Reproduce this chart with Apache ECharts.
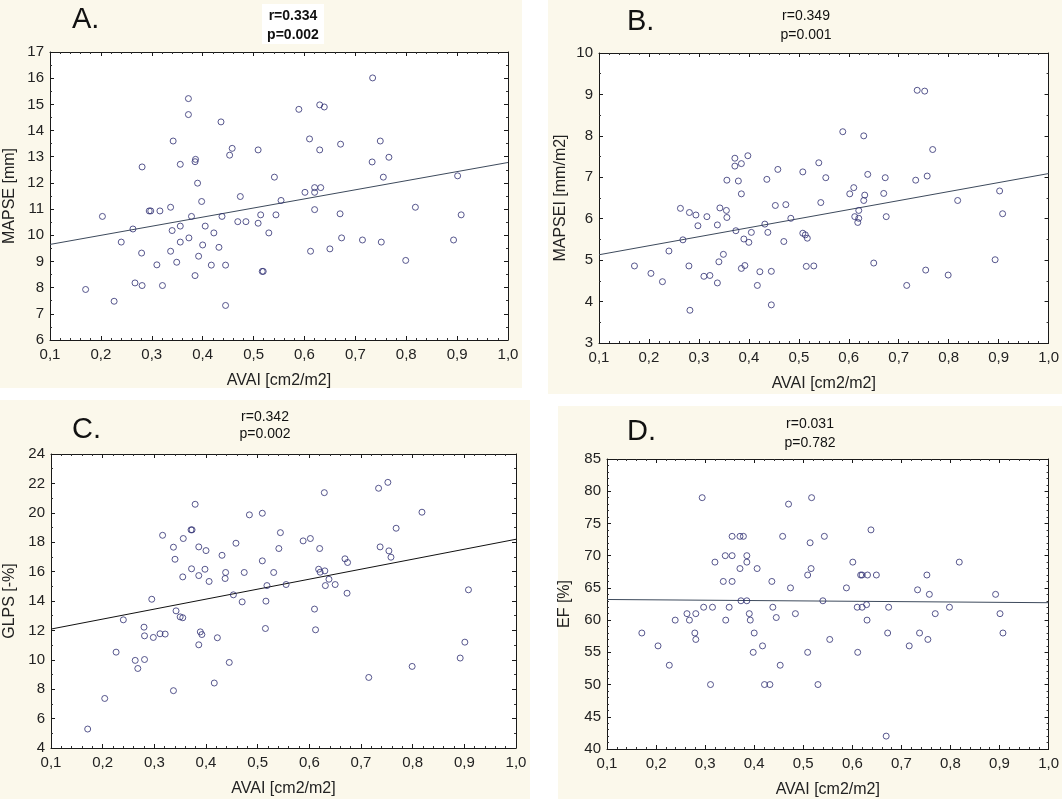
<!DOCTYPE html>
<html>
<head>
<meta charset="utf-8">
<script src="https://cdn.jsdelivr.net/npm/echarts@6/dist/echarts.min.js"></script>
<style>
  html, body { margin: 0; padding: 0; background: #fff; }
  #MyChart { width: 1062px; height: 799px; }
</style>
</head>
<body>
<div id="MyChart"></div>
<script>
// AVAI [cm2/m2] vs MAPSE [mm]
var mapseData = [
  [0.170, 7.93], [0.203, 10.72], [0.226, 7.48], [0.240, 9.74], [0.263, 10.24], [0.267, 8.18],
  [0.280, 9.32], [0.281, 12.61], [0.281, 8.08], [0.295, 10.93], [0.298, 10.93], [0.310, 8.87],
  [0.316, 10.93], [0.321, 8.08], [0.337, 9.39], [0.337, 11.07], [0.340, 10.18], [0.342, 13.60],
  [0.349, 8.97], [0.356, 12.71], [0.356, 10.35], [0.356, 9.74], [0.372, 15.22], [0.372, 14.61],
  [0.373, 9.90], [0.378, 10.72], [0.386, 12.90], [0.385, 12.81], [0.385, 8.46], [0.390, 11.99],
  [0.392, 9.20], [0.398, 11.29], [0.400, 9.63], [0.405, 10.35], [0.417, 8.86], [0.422, 10.09],
  [0.432, 9.54], [0.436, 14.33], [0.438, 10.72], [0.445, 8.86], [0.445, 7.32], [0.453, 13.06],
  [0.458, 13.32], [0.469, 10.52], [0.474, 11.48], [0.485, 10.52], [0.509, 13.26], [0.509, 10.46],
  [0.514, 10.78], [0.517, 8.62], [0.519, 8.62], [0.530, 10.09], [0.541, 12.22], [0.544, 10.78],
  [0.554, 11.33], [0.589, 14.81], [0.601, 11.64], [0.610, 13.68], [0.612, 9.39], [0.620, 11.82],
  [0.620, 11.64], [0.620, 10.98], [0.630, 13.26], [0.630, 14.98], [0.632, 11.82], [0.639, 14.90],
  [0.650, 9.48], [0.670, 10.82], [0.671, 13.48], [0.673, 9.90], [0.714, 9.82], [0.733, 12.80],
  [0.734, 16.01], [0.749, 13.60], [0.751, 9.74], [0.755, 12.22], [0.766, 12.98], [0.799, 9.04],
  [0.818, 11.07], [0.893, 9.82], [0.901, 12.27], [0.908, 10.78]
];
var mapseFit = [[0.1, 9.65], [1.0, 12.78]];

// AVAI vs MAPSEI [mm/m2]
var mapseiData = [
  [0.171, 4.86], [0.204, 4.68], [0.227, 4.48], [0.240, 5.22], [0.263, 6.25], [0.268, 5.49],
  [0.281, 6.15], [0.280, 4.86], [0.282, 3.79], [0.294, 6.09], [0.298, 5.83], [0.310, 4.61],
  [0.316, 6.05], [0.322, 4.63], [0.337, 4.45], [0.337, 5.85], [0.340, 4.96], [0.342, 6.26],
  [0.349, 5.14], [0.355, 6.20], [0.356, 6.03], [0.356, 6.93], [0.372, 7.46], [0.372, 7.27],
  [0.374, 5.71], [0.379, 6.91], [0.385, 7.33], [0.385, 6.60], [0.385, 4.80], [0.390, 5.51],
  [0.392, 4.87], [0.398, 7.52], [0.400, 5.43], [0.405, 5.67], [0.417, 4.39], [0.422, 4.72],
  [0.432, 5.87], [0.436, 6.95], [0.438, 5.67], [0.445, 4.73], [0.445, 3.92], [0.453, 6.32],
  [0.458, 7.19], [0.470, 5.45], [0.474, 6.34], [0.484, 6.01], [0.508, 7.13], [0.508, 5.65],
  [0.513, 5.61], [0.517, 5.53], [0.515, 4.85], [0.530, 4.86], [0.540, 7.35], [0.544, 6.39],
  [0.554, 6.99], [0.588, 8.10], [0.602, 6.60], [0.610, 6.75], [0.612, 6.05], [0.620, 6.20],
  [0.620, 6.01], [0.618, 5.91], [0.630, 8.00], [0.632, 6.57], [0.630, 6.44], [0.638, 7.07],
  [0.650, 4.93], [0.670, 6.61], [0.673, 6.99], [0.675, 6.05], [0.716, 4.39], [0.734, 6.93],
  [0.737, 9.10], [0.752, 9.08], [0.754, 4.76], [0.757, 7.03], [0.768, 7.67], [0.799, 4.64],
  [0.818, 6.44], [0.893, 5.01], [0.902, 6.67], [0.908, 6.12]
];
var mapseiFit = [[0.1, 5.13], [1.0, 7.09]];

// AVAI vs GLPS [-%]
var glpsData = [
  [0.171, 5.29], [0.204, 7.37], [0.226, 10.52], [0.240, 12.72], [0.263, 9.96], [0.268, 9.41],
  [0.280, 12.22], [0.281, 11.63], [0.281, 10.02], [0.295, 14.12], [0.298, 11.52], [0.311, 11.77],
  [0.316, 18.47], [0.321, 11.75], [0.337, 7.90], [0.337, 17.66], [0.340, 16.84], [0.342, 13.33],
  [0.350, 12.92], [0.355, 12.86], [0.355, 15.64], [0.356, 18.25], [0.371, 18.84], [0.373, 18.84],
  [0.372, 16.19], [0.379, 20.58], [0.386, 17.68], [0.386, 15.73], [0.386, 11.02], [0.389, 11.90],
  [0.392, 11.72], [0.398, 16.16], [0.400, 17.43], [0.406, 15.33], [0.416, 8.42], [0.422, 11.50],
  [0.431, 17.11], [0.437, 15.53], [0.438, 15.94], [0.445, 9.82], [0.453, 14.42], [0.458, 17.93],
  [0.470, 13.94], [0.474, 15.94], [0.484, 19.86], [0.509, 19.97], [0.509, 16.73], [0.515, 12.13],
  [0.516, 13.99], [0.518, 15.05], [0.531, 15.94], [0.541, 17.57], [0.544, 18.65], [0.555, 15.12],
  [0.588, 18.09], [0.602, 18.25], [0.610, 13.45], [0.612, 12.04], [0.620, 17.57], [0.618, 16.16],
  [0.621, 15.96], [0.629, 21.37], [0.630, 16.05], [0.631, 15.05], [0.638, 15.48], [0.650, 15.12],
  [0.669, 16.87], [0.674, 16.62], [0.673, 14.53], [0.715, 8.80], [0.734, 21.67], [0.737, 17.68],
  [0.752, 22.07], [0.754, 17.41], [0.758, 16.98], [0.768, 18.95], [0.799, 9.55], [0.818, 20.04],
  [0.892, 10.12], [0.901, 11.20], [0.908, 14.76]
];
var glpsFit = [[0.1, 12.09], [1.0, 18.20]];

// AVAI vs EF [%]
var efData = [
  [0.171, 58], [0.204, 56], [0.227, 53], [0.239, 60], [0.263, 61], [0.268, 60],
  [0.279, 58], [0.281, 57], [0.281, 61], [0.294, 79], [0.297, 62], [0.311, 50],
  [0.315, 62], [0.320, 69], [0.337, 66], [0.341, 70], [0.342, 60], [0.349, 62],
  [0.355, 66], [0.355, 73], [0.355, 70], [0.371, 73], [0.378, 73], [0.371, 68],
  [0.373, 63], [0.385, 63], [0.385, 70], [0.385, 69], [0.390, 61], [0.392, 60],
  [0.400, 58], [0.398, 55], [0.406, 68], [0.417, 56], [0.421, 50], [0.432, 50],
  [0.436, 66], [0.438, 62], [0.445, 60.4], [0.453, 53], [0.458, 73], [0.470, 78],
  [0.474, 65], [0.484, 61], [0.509, 67], [0.509, 55], [0.514, 72], [0.517, 79],
  [0.516, 68], [0.530, 50], [0.540, 63], [0.543, 73], [0.554, 57], [0.588, 65],
  [0.601, 69], [0.610, 62], [0.611, 55], [0.617, 67], [0.620, 67], [0.620, 62],
  [0.629, 62.4], [0.630, 60], [0.631, 67], [0.638, 74], [0.649, 67], [0.669, 42],
  [0.672, 58], [0.674, 62], [0.716, 56], [0.733, 64.7], [0.737, 58], [0.752, 67],
  [0.754, 57], [0.757, 64], [0.769, 61], [0.798, 62], [0.818, 69], [0.892, 64],
  [0.901, 61], [0.907, 58]
];
var efFit = [[0.1, 63.2], [1.0, 62.7]];

var xTicks = [0.1, 1.0, 0.1];
var FONT = 'Liberation Sans, Arial, sans-serif';

var grids = [];
var xAxes = [];
var yAxes = [];
var series = [];

//一个面板：网格 + 四边坐标轴 + 散点 + 回归线
function addPanel(i, box, yMin, yMax, yStep, yMinor, yName, yNameGap, data, fit, fitColor) {
    grids.push({ left: box[0], top: box[1], width: box[2], height: box[3], show: true, backgroundColor: '#fff', borderWidth: 0 });
    var lineStyle = { color: '#1a1a1a', width: 1 };
    xAxes.push({
        gridIndex: i, type: 'value', position: 'bottom',
        min: xTicks[0], max: xTicks[1], interval: xTicks[2],
        name: 'AVAI [cm2/m2]', nameLocation: 'middle', nameGap: 33,
        nameTextStyle: { fontFamily: FONT, fontSize: 16, color: '#222' },
        axisLine: { show: true, onZero: false, lineStyle: lineStyle },
        axisTick: { inside: true, length: 4, lineStyle: lineStyle },
        minorTick: { show: true, splitNumber: 5, length: 2, lineStyle: { color: '#333' } },
        splitLine: { show: false },
        axisLabel: { fontFamily: FONT, fontSize: 15, color: '#222', margin: 7,
            formatter: function (v) { return v.toFixed(1).replace('.', ','); } }
    });
    xAxes.push({
        gridIndex: i, type: 'value', position: 'top',
        min: xTicks[0], max: xTicks[1], interval: xTicks[2],
        axisLine: { show: true, onZero: false, lineStyle: lineStyle },
        axisTick: { inside: true, length: 4, lineStyle: lineStyle },
        minorTick: { show: true, splitNumber: 5, length: 2, lineStyle: { color: '#333' } },
        splitLine: { show: false }, axisLabel: { show: false }
    });
    yAxes.push({
        gridIndex: i, type: 'value', position: 'left',
        min: yMin, max: yMax, interval: yStep,
        name: yName, nameLocation: 'middle', nameGap: yNameGap, nameRotate: 90,
        nameTextStyle: { fontFamily: FONT, fontSize: 16, color: '#222' },
        axisLine: { show: true, onZero: false, lineStyle: lineStyle },
        axisTick: { inside: true, length: 4, lineStyle: lineStyle },
        minorTick: { show: true, splitNumber: yMinor, length: 2, lineStyle: { color: '#333' } },
        splitLine: { show: false },
        axisLabel: { fontFamily: FONT, fontSize: 15, color: '#222', margin: 6 }
    });
    yAxes.push({
        gridIndex: i, type: 'value', position: 'right',
        min: yMin, max: yMax, interval: yStep,
        axisLine: { show: true, onZero: false, lineStyle: lineStyle },
        axisTick: { inside: true, length: 4, lineStyle: lineStyle },
        minorTick: { show: true, splitNumber: yMinor, length: 2, lineStyle: { color: '#333' } },
        splitLine: { show: false }, axisLabel: { show: false }
    });
    series.push({
        type: 'scatter', xAxisIndex: 2 * i, yAxisIndex: 2 * i,
        symbol: 'circle', symbolSize: 6,
        itemStyle: { color: 'rgba(255,255,255,0)', borderColor: '#2e2e72', borderWidth: 1 },
        data: data, z: 3
    });
    series.push({
        type: 'line', xAxisIndex: 2 * i, yAxisIndex: 2 * i,
        showSymbol: false, symbol: 'none',
        lineStyle: { color: fitColor, width: 1 },
        data: fit, z: 2
    });
}

addPanel(0, [50, 52, 458, 288], 6, 17, 1, 2, 'MAPSE [mm]', 32, mapseData, mapseFit, '#3d4a5c');
addPanel(1, [599, 53, 450, 290], 3, 10, 1, 2, 'MAPSEI [mm/m2]', 30, mapseiData, mapseiFit, '#3d4a5c');
addPanel(2, [51, 454, 465, 294], 4, 24, 2, 2, 'GLPS [-%]', 33, glpsData, glpsFit, '#111');
addPanel(3, [607, 459, 444, 290], 40, 85, 5, 5, 'EF [%]', 34, efData, efFit, '#3d4a5c');

var cream = '#fbf8eb';
var myChart = echarts.init(document.getElementById('MyChart'), null, { renderer: 'canvas' });
var option = {
    backgroundColor: '#fff',
    animation: false,
    graphic: [
        { type: 'rect', z: -10, shape: { x: 0, y: 0, width: 522, height: 388 }, style: { fill: cream } },
        { type: 'rect', z: -10, shape: { x: 548, y: 0, width: 514, height: 394 }, style: { fill: cream } },
        { type: 'rect', z: -10, shape: { x: 0, y: 400, width: 530, height: 399 }, style: { fill: cream } },
        { type: 'rect', z: -10, shape: { x: 558, y: 406, width: 504, height: 393 }, style: { fill: cream } },
        { type: 'rect', z: -5, shape: { x: 262, y: 4, width: 62, height: 40 }, style: { fill: '#fff' } },
        { type: 'text', x: 72, y: 5, style: { text: 'A.', font: '29px ' + FONT, fill: '#111' } },
        { type: 'text', x: 627, y: 7, style: { text: 'B.', font: '29px ' + FONT, fill: '#111' } },
        { type: 'text', x: 72, y: 415, style: { text: 'C.', font: '29px ' + FONT, fill: '#111' } },
        { type: 'text', x: 627, y: 417, style: { text: 'D.', font: '29px ' + FONT, fill: '#111' } },
        { type: 'text', x: 293, y: 7, style: { text: 'r=0.334\np=0.002', align: 'center', lineHeight: 19, font: 'bold 14px ' + FONT, fill: '#111' } },
        { type: 'text', x: 806, y: 7, style: { text: 'r=0.349\np=0.001', align: 'center', lineHeight: 19, font: '14px ' + FONT, fill: '#111' } },
        { type: 'text', x: 265, y: 409, style: { text: 'r=0.342\np=0.002', align: 'center', lineHeight: 17, font: '14px ' + FONT, fill: '#111' } },
        { type: 'text', x: 810, y: 415, style: { text: 'r=0.031\np=0.782', align: 'center', lineHeight: 19, font: '14px ' + FONT, fill: '#111' } }
    ],
    grid: grids,
    xAxis: xAxes,
    yAxis: yAxes,
    series: series
};
myChart.setOption(option);
</script>
</body>
</html>
